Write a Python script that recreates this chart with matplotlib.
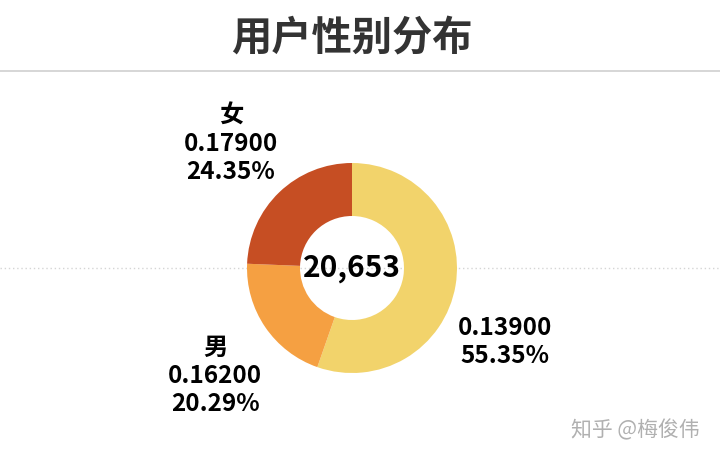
import matplotlib
matplotlib.use("Agg")
import matplotlib.pyplot as plt

plt.rcParams['font.family'] = ['Noto Sans CJK SC', 'DejaVu Sans']

# data
title = "用户性别分布"
categories = ["", "男", "女"]
metric = ["0.13900", "0.16200", "0.17900"]
shares = [55.35, 20.29, 24.35]
total_users = "20,653"
colors = ["#F2D36B", "#F5A042", "#C64E23"]
watermark = "知乎 @梅俊伟"

W, H = 720, 459
fig = plt.figure(figsize=(W / 100, H / 100), dpi=100)
ax = fig.add_axes([0, 0, 1, 1])

cx, cy = 352, H - 268
ax.pie(shares, colors=colors, startangle=90, counterclock=False,
       radius=105, center=(cx, cy), wedgeprops=dict(width=53, linewidth=0))

ax.set_xlim(0, W)
ax.set_ylim(0, H)
ax.set_aspect('equal')
ax.axis('off')

# title and separator lines
fig.text(352 / W, 1 - 38 / H, title, ha='center', va='center', fontsize=29,
         fontweight='bold', color='#333333')
ax.axhline(H - 71, color='#d0d0d0', linewidth=1.2, zorder=0)
ax.axhline(cy, color='#d5d5d5', linewidth=1, linestyle=(0, (1, 2)), zorder=0)

# center total
ax.text(cx, cy, total_users, ha='center', va='center', fontsize=21.5,
        fontweight='bold', color='black')

# slice labels
label_pos = [(505, 342), (215, 376), (231, 144)]
for name, m, s, (x, y) in zip(categories, metric, shares, label_pos):
    lines = [m, f"{s:.2f}%"]
    if name:
        lines = [name] + lines
    ax.text(x, H - y, "\n".join(lines), ha='center', va='center', fontsize=17.5,
            fontweight='bold', color='black', linespacing=1.22)

fig.text(635 / W, 1 - 430 / H, watermark, ha='center', va='center', fontsize=15,
         color='#b0b0b0')

fig.savefig("out.png", dpi=100)
